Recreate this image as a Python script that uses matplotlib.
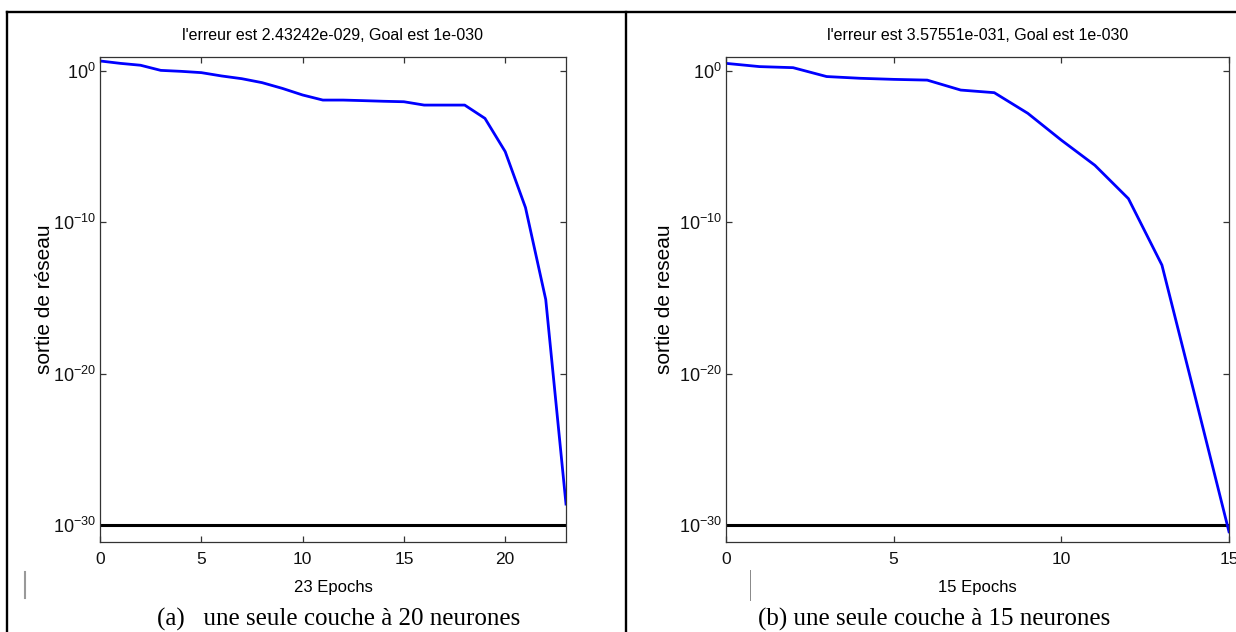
import numpy as np
import matplotlib
matplotlib.use("Agg")
import matplotlib.pyplot as plt
from matplotlib.lines import Line2D

plt.rcParams["font.family"] = ["Liberation Sans", "DejaVu Sans"]
plt.rcParams["mathtext.fontset"] = "custom"
plt.rcParams["mathtext.rm"] = "Liberation Sans"
plt.rcParams["mathtext.it"] = "Liberation Sans"
plt.rcParams["mathtext.default"] = "regular"

# ---- data (performance vs epoch, log scale) ----
epochs_a = np.arange(24)
perf_a = [4.6, 3.2, 2.4, 1.1, 0.95, 0.78, 0.47, 0.31, 0.17, 0.071, 0.026, 0.012,
          0.012, 0.011, 0.010, 0.0093, 0.0056, 0.0056, 0.0056, 7.4e-4, 4.7e-6,
          9.5e-10, 8e-16, 2.43242e-29]
epochs_b = np.arange(16)
perf_b = [3.2, 1.95, 1.66, 0.43, 0.33, 0.28, 0.25, 0.055, 0.037, 1.6e-3, 2.7e-5,
          5.9e-7, 3.7e-9, 1.5e-13, 2.5e-22, 3.57551e-31]
goal = 1e-30

titles = ["l'erreur est 2.43242e-029, Goal est 1e-030",
          "l'erreur est 3.57551e-031, Goal est 1e-030"]
xlabels = ["23 Epochs", "15 Epochs"]
ylabels = ["sortie de réseau", "sortie de reseau"]
captions = ["(a)   une seule couche à 20 neurones",
            "(b) une seule couche à 15 neurones"]
xticks_a = [0, 5, 10, 15, 20]
xticks_b = [0, 5, 10, 15]
yticks = [1e-30, 1e-20, 1e-10, 1e0]
ytick_labels = [r"$10^{-30}$", r"$10^{-20}$", r"$10^{-10}$", r"$10^{0}$"]

W, H = 1236, 632
fig = plt.figure(figsize=(W / 100, H / 100), dpi=100)
fig.patch.set_facecolor("white")

def px(x0, y0, x1, y1):
    return [x0 / W, 1 - y1 / H, (x1 - x0) / W, (y1 - y0) / H]

panels = [
    (px(100, 57, 566, 542), epochs_a, perf_a, xticks_a, 0),
    (px(726, 57, 1229, 542), epochs_b, perf_b, xticks_b, 1),
]
for rect, ep, perf, xt, i in panels:
    ax = fig.add_axes(rect)
    ax.plot([ep[0], ep[-1]], [goal, goal], color="k", lw=2.2)
    ax.plot(ep, perf, color="#0000ff", lw=2)
    ax.set_yscale("log")
    ax.set_xlim(ep[0], ep[-1])
    ax.set_ylim(10 ** -31.12, 10 ** 0.925)
    ax.set_xticks(xt)
    ax.set_yticks(yticks)
    ax.set_yticklabels(ytick_labels)
    ax.yaxis.set_minor_locator(matplotlib.ticker.NullLocator())
    ax.tick_params(direction="in", length=4.5, width=0.9, color="#333333",
                   top=True, right=True, labelsize=12.5, labelcolor="#111111")
    ax.tick_params(axis="x", pad=7)
    ax.tick_params(axis="y", pad=3, labelsize=13)
    for s in ax.spines.values():
        s.set_color("#333333"); s.set_linewidth(0.9)
    ax.set_title(titles[i], fontsize=11.5, pad=12)
    ax.set_xlabel(xlabels[i], fontsize=12)
    ax.xaxis.set_label_coords(0.5, (542 - 580) / 485)
    ax.set_ylabel(ylabels[i], fontsize=15)
    ax.yaxis.set_label_coords(-0.099 if i == 0 else -0.103, 0.5)

# captions under each panel (document table cells)
fig.text(339 / W, 1 - 619 / H, captions[0], ha="center", va="center",
         family=["Liberation Serif", "DejaVu Serif"], fontsize=18)
fig.text(934 / W, 1 - 619 / H, captions[1], ha="center", va="center",
         family=["Liberation Serif", "DejaVu Serif"], fontsize=18)

# table borders
for xs, ys in [([7, W], [12, 12]), ([7, 7], [12, H]), ([626, 626], [12, H])]:
    fig.add_artist(Line2D([x / W for x in xs], [1 - y / H for y in ys],
                          transform=fig.transFigure, color="k", lw=1.7))
# small scan artefacts
fig.add_artist(Line2D([25 / W, 25 / W], [1 - 572 / H, 1 - 598 / H],
                      transform=fig.transFigure, color="#999999", lw=1.5))
fig.add_artist(Line2D([750 / W, 750 / W], [1 - 570 / H, 1 - 600 / H],
                      transform=fig.transFigure, color="#888888", lw=0.7))

fig.savefig("out.png", dpi=100)
